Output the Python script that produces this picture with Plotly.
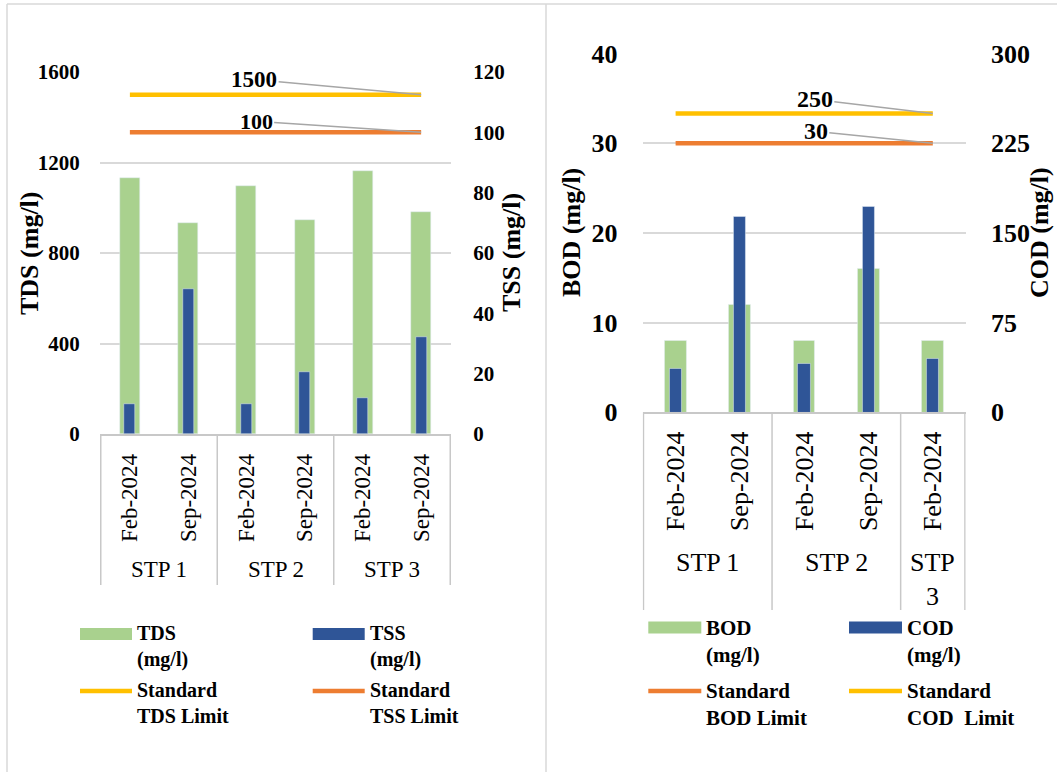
import plotly.graph_objects as go

# ---- data -------------------------------------------------------------
# Left panel: TDS / TSS
sites_l = ["STP 1", "STP 1", "STP 2", "STP 2", "STP 3", "STP 3"]
months_l = ["Feb-2024", "Sep-2024", "Feb-2024", "Sep-2024", "Feb-2024", "Sep-2024"]
tds = [1133, 934, 1095, 946, 1164, 980]
tss = [10, 48, 10, 20.5, 12, 32]
tds_limit = 1500
tss_limit = 100

# Right panel: BOD / COD
sites_r = ["STP 1", "STP 1", "STP 2", "STP 2", "STP 3"]
months_r = ["Feb-2024", "Sep-2024", "Feb-2024", "Sep-2024", "Feb-2024"]
bod = [8, 12, 8, 16, 8]
cod = [36.5, 164, 41, 172, 44.5]
bod_limit = 30
cod_limit = 250

axis_titles = ["TDS (mg/l)", "TSS (mg/l)", "BOD (mg/l)", "COD (mg/l)"]
legend_l = ["TDS<br>(mg/l)", "TSS<br>(mg/l)", "Standard<br>TDS Limit", "Standard<br>TSS Limit"]
legend_r = ["BOD<br>(mg/l)", "COD<br>(mg/l)", "Standard<br>BOD Limit", "Standard<br>COD  Limit"]

# ---- styling ----------------------------------------------------------
W, H = 1057, 772
FONT = "Liberation Serif"
GREEN = "#a9d18e"
BLUE = "#2f5597"
YELLOW = "#ffc000"
ORANGE = "#ed7d31"
GRID = "#d9d9d9"
DIV = "#c8c8c8"
LEADER = "#a6a6a6"


def px(x):
    return x / W


def py(y):
    return 1 - y / H


keys_l = [f"{s} {m}" for s, m in zip(sites_l, months_l)]
keys_r = [f"{s} {m}" for s, m in zip(sites_r, months_r)]

fig = go.Figure()

# bars: primary quantity on the left axis, secondary quantity on the right axis
fig.add_trace(go.Bar(x=keys_l, y=tds, width=0.34, marker_color=GREEN,
                     name="TDS (mg/l)", xaxis="x", yaxis="y", showlegend=False))
fig.add_trace(go.Bar(x=keys_l, y=tss, width=0.19, marker_color=BLUE,
                     name="TSS (mg/l)", xaxis="x", yaxis="y2", showlegend=False))
fig.add_trace(go.Scatter(x=keys_l, y=[tds_limit] * len(keys_l), mode="lines",
                         line=dict(color=YELLOW, width=4.5),
                         name="Standard TDS Limit", xaxis="x", yaxis="y", showlegend=False))
fig.add_trace(go.Scatter(x=keys_l, y=[tss_limit] * len(keys_l), mode="lines",
                         line=dict(color=ORANGE, width=4.5),
                         name="Standard TSS Limit", xaxis="x", yaxis="y2", showlegend=False))

fig.add_trace(go.Bar(x=keys_r, y=bod, width=0.335, marker_color=GREEN,
                     name="BOD (mg/l)", xaxis="x2", yaxis="y3", showlegend=False))
fig.add_trace(go.Bar(x=keys_r, y=cod, width=0.19, marker_color=BLUE,
                     name="COD (mg/l)", xaxis="x2", yaxis="y4", showlegend=False))
fig.add_trace(go.Scatter(x=keys_r, y=[bod_limit] * len(keys_r), mode="lines",
                         line=dict(color=ORANGE, width=4.5),
                         name="Standard BOD Limit", xaxis="x2", yaxis="y3", showlegend=False))
fig.add_trace(go.Scatter(x=keys_r, y=[cod_limit] * len(keys_r), mode="lines",
                         line=dict(color=YELLOW, width=4.5),
                         name="Standard COD Limit", xaxis="x2", yaxis="y4", showlegend=False))

# ---- axes -------------------------------------------------------------
dom_xl = [px(100), px(451)]
dom_yl = [py(434), py(72)]
dom_xr = [px(642.7), px(965.7)]
dom_yr = [py(412.3), py(53.7)]

bold_l = dict(family=FONT, size=21, color="black", weight="bold")
bold_r = dict(family=FONT, size=26, color="black", weight="bold")
title_font = dict(family=FONT, size=26, color="black", weight="bold")
hidden_tick = "rgba(0,0,0,0)"

xcommon = dict(type="category", tickangle=-90, showgrid=False, zeroline=False,
               showline=True, linecolor=DIV, linewidth=1.5, automargin=False,
               ticks="outside", tickcolor=hidden_tick)
ycommon = dict(zeroline=False, showline=False, automargin=False,
               ticks="outside", tickcolor=hidden_tick)

fig.update_layout(
    width=W, height=H,
    margin=dict(l=0, r=0, t=0, b=0),
    paper_bgcolor="white", plot_bgcolor="white",
    bargap=0,
    xaxis=dict(domain=dom_xl, anchor="y", tickmode="array", tickvals=keys_l, ticktext=months_l,
               ticklen=9, tickfont=dict(family=FONT, size=23, color="black"), **xcommon),
    yaxis=dict(domain=dom_yl, anchor="x", range=[0, 1600], tickvals=[0, 400, 800, 1200, 1600],
               showgrid=True, gridcolor=GRID, gridwidth=1.5, ticklen=15, tickfont=bold_l,
               **ycommon),
    yaxis2=dict(overlaying="y", side="right", anchor="x", range=[0, 120],
                tickvals=[0, 20, 40, 60, 80, 100, 120], showgrid=False,
                ticklen=17, tickfont=bold_l, **ycommon),
    xaxis2=dict(domain=dom_xr, anchor="y3", tickmode="array", tickvals=keys_r, ticktext=months_r,
                ticklen=7, tickfont=dict(family=FONT, size=26, color="black"), **xcommon),
    yaxis3=dict(domain=dom_yr, anchor="x2", range=[0, 40], tickvals=[0, 10, 20, 30, 40],
                showgrid=True, gridcolor=GRID, gridwidth=1.5, ticklen=19, tickfont=bold_r,
                **ycommon),
    yaxis4=dict(overlaying="y3", side="right", anchor="x2", range=[0, 300],
                tickvals=[0, 75, 150, 225, 300], showgrid=False,
                ticklen=19, tickfont=bold_r, **ycommon),
)

shapes = []
annotations = []

# rotated axis titles
for text, (cx, cy) in zip(axis_titles, [(29, 253), (511, 253), (572, 233), (1040, 233)]):
    annotations.append(dict(xref="paper", yref="paper", x=px(cx), y=py(cy), text=text,
                            textangle=-90, showarrow=False, xanchor="center", yanchor="middle",
                            font=title_font))


def group_axis(sites, xref, y_axis_px, y_bottom_px, label_y_px, size):
    """Draw the outer category level: divider lines and site names."""
    groups = []
    for i, s in enumerate(sites):
        if groups and groups[-1][0] == s:
            groups[-1][2] = i
        else:
            groups.append([s, i, i])
    bounds = [-0.5] + [g[2] + 0.5 for g in groups]
    for b in bounds:
        shapes.append(dict(type="line", xref=xref, yref="paper", x0=b, x1=b,
                           y0=py(y_axis_px), y1=py(y_bottom_px),
                           line=dict(color=DIV, width=1.5)))
    for name, a, b in groups:
        text = name if b > a else name.replace(" ", "<br>")
        annotations.append(dict(xref=xref, yref="paper", x=(a + b) / 2, y=py(label_y_px),
                                text=text, showarrow=False, xanchor="center", yanchor="top",
                                font=dict(family=FONT, size=size, color="black")))


group_axis(sites_l, "x", 434, 585, 555, 23)
group_axis(sites_r, "x2", 412.3, 610, 546, 26)


def limit_label(xref, yref, x, y, value, ax, ay, size):
    annotations.append(dict(xref=xref, yref=yref, x=x, y=y, text=f"{value}",
                            showarrow=True, arrowhead=0, arrowwidth=1.5, arrowcolor=LEADER,
                            ax=ax, ay=ay, standoff=0,
                            font=dict(family=FONT, size=size, color="black", weight="bold")))


limit_label("x", "y", keys_l[-1], tds_limit, tds_limit, -167, -15, 23)
limit_label("x", "y2", keys_l[-1], tss_limit, tss_limit, -165, -11, 22)
limit_label("x2", "y4", keys_r[-1], cod_limit, cod_limit, -118, -14, 24)
limit_label("x2", "y3", keys_r[-1], bod_limit, bod_limit, -117, -12, 24)


def legend(labels, colors, kinds, cols_x, rows_y, sw, size):
    """Two-column legend: swatch followed by a wrapped label."""
    for i, (lab, col, kind) in enumerate(zip(labels, colors, kinds)):
        x0 = cols_x[i % 2]
        yc = rows_y[i // 2]
        if kind == "bar":
            shapes.append(dict(type="rect", xref="paper", yref="paper",
                               x0=px(x0), x1=px(x0 + sw), y0=py(yc + 6), y1=py(yc - 6),
                               fillcolor=col, line=dict(width=0)))
        else:
            shapes.append(dict(type="line", xref="paper", yref="paper",
                               x0=px(x0), x1=px(x0 + sw), y0=py(yc), y1=py(yc),
                               line=dict(color=col, width=4.5)))
        annotations.append(dict(xref="paper", yref="paper", x=px(x0 + sw + 3), y=py(yc - 14),
                                text=f"<b>{lab}</b>", showarrow=False, align="left",
                                xanchor="left", yanchor="top",
                                font=dict(family=FONT, size=size, color="black")))


legend(legend_l, [GREEN, BLUE, YELLOW, ORANGE], ["bar", "bar", "line", "line"],
       [80, 312.7], [634, 691], 52, 20)
legend(legend_r, [GREEN, BLUE, ORANGE, YELLOW], ["bar", "bar", "line", "line"],
       [648.3, 849], [627.5, 691], 53, 21)

# chart frames
for x in (7, 546):
    shapes.append(dict(type="line", xref="paper", yref="paper", x0=px(x), x1=px(x),
                       y0=py(4), y1=py(H + 5), line=dict(color=GRID, width=1.5)))
shapes.append(dict(type="line", xref="paper", yref="paper", x0=px(7), x1=1.01,
                   y0=py(4), y1=py(4), line=dict(color=GRID, width=1.5)))

fig.update_layout(shapes=shapes, annotations=annotations)
fig.write_html("out.html")
